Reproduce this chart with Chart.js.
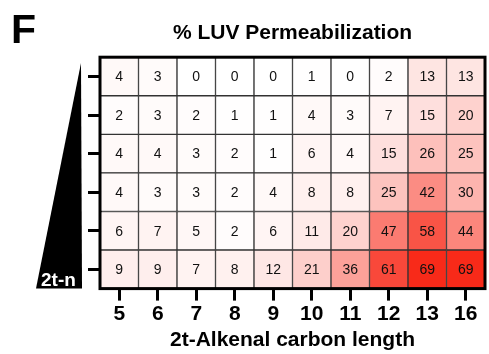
<!DOCTYPE html>
<html>
<head>
<meta charset="utf-8">
<script src="https://cdn.jsdelivr.net/npm/chart.js@4.4.1/dist/chart.umd.min.js"></script>
<style>
  html, body { margin: 0; padding: 0; background: #fff; }
  #wrap { width: 489px; height: 354px; position: relative; }
</style>
</head>
<body>
<div id="wrap"><canvas id="heat"></canvas></div>
<script>
// Alkenal carbon length (columns)
const carbonLengths = ['5', '6', '7', '8', '9', '10', '11', '12', '13', '16'];

// % LUV permeabilization, rows from bottom (2t-n, highest) to top
const row1 = [9, 9, 7, 8, 12, 21, 36, 61, 69, 69];
const row2 = [6, 7, 5, 2, 6, 11, 20, 47, 58, 44];
const row3 = [4, 3, 3, 2, 4, 8, 8, 25, 42, 30];
const row4 = [4, 4, 3, 2, 1, 6, 4, 15, 26, 25];
const row5 = [2, 3, 2, 1, 1, 4, 3, 7, 15, 20];
const row6 = [4, 3, 0, 0, 0, 1, 0, 2, 13, 13];
const rows = [row1, row2, row3, row4, row5, row6];

const rowTicks = [0, 1, 2, 3, 4, 5];
const maxValue = 69;

Chart.defaults.font.family = '"Liberation Sans", Arial, Helvetica, sans-serif';
Chart.defaults.color = '#000';

// white -> red, slightly convex
function heatColor(v) {
  const t = Math.pow(Math.min(v / maxValue, 1), 1.25);
  const hi = [248, 42, 25];
  const r = Math.round(255 + (hi[0] - 255) * t);
  const g = Math.round(255 + (hi[1] - 255) * t);
  const b = Math.round(255 + (hi[2] - 255) * t);
  return 'rgb(' + r + ',' + g + ',' + b + ')';
}

const datasets = rows.map(function(vals, r) {
  return {
    label: 'row ' + r,
    data: vals.map(function() { return [r - 0.5, r + 0.5]; }),
    backgroundColor: vals.map(heatColor),
    borderColor: '#333',
    borderWidth: 1,
    borderSkipped: false,
    grouped: false,
    barPercentage: 1,
    categoryPercentage: 1
  };
});

// numbers inside the cells + outer frame
const cellText = {
  id: 'cellText',
  afterDatasetsDraw(chart) {
    const ctx = chart.ctx;
    ctx.save();
    ctx.font = '14px "Liberation Sans", Arial, sans-serif';
    ctx.fillStyle = '#111';
    ctx.textAlign = 'center';
    ctx.textBaseline = 'middle';
    rows.forEach(function(vals, r) {
      chart.getDatasetMeta(r).data.forEach(function(bar, i) {
        ctx.fillText(String(vals[i]), bar.x, (bar.y + bar.base) / 2 + 1);
      });
    });
    const a = chart.chartArea;
    ctx.lineWidth = 3;
    ctx.strokeStyle = '#000';
    ctx.strokeRect(a.left, a.top, a.right - a.left, a.bottom - a.top);
    ctx.restore();
  }
};

// panel letter and the concentration wedge
const decor = {
  id: 'decor',
  afterDraw(chart) {
    const ctx = chart.ctx;
    const a = chart.chartArea;
    ctx.save();
    ctx.fillStyle = '#000';
    ctx.font = 'bold 41px "Liberation Sans", Arial, sans-serif';
    ctx.textAlign = 'left';
    ctx.textBaseline = 'alphabetic';
    ctx.fillText('F', 11, 43);

    ctx.beginPath();
    ctx.moveTo(81, 63);
    ctx.lineTo(82, a.bottom);
    ctx.lineTo(36, a.bottom);
    ctx.closePath();
    ctx.fill();

    ctx.fillStyle = '#fff';
    ctx.font = 'bold 19px "Liberation Sans", Arial, sans-serif';
    ctx.fillText('2t-n', 41, a.bottom - 3);
    ctx.restore();
  }
};

new Chart(document.getElementById('heat').getContext('2d'), {
  type: 'bar',
  data: {
    labels: carbonLengths,
    datasets: datasets
  },
  options: {
    responsive: true,
    maintainAspectRatio: false,
    animation: false,
    layout: {
      padding: { left: 88, right: 4, top: 0, bottom: 1 }
    },
    scales: {
      x: {
        type: 'category',
        offset: true,
        grid: {
          offset: false,
          drawOnChartArea: false,
          tickLength: 12,
          tickWidth: 3,
          tickColor: '#000'
        },
        border: { width: 3, color: '#000' },
        ticks: {
          font: { size: 21, weight: 'bold' },
          color: '#000',
          padding: 1,
          maxRotation: 0
        },
        title: {
          display: true,
          text: '2t-Alkenal carbon length',
          font: { size: 21, weight: 'bold' },
          color: '#000',
          padding: 0
        }
      },
      y: {
        type: 'linear',
        min: -0.5,
        max: 5.5,
        afterBuildTicks: function(scale) {
          scale.ticks = rowTicks.map(function(v) { return { value: v }; });
        },
        grid: {
          drawOnChartArea: false,
          tickLength: 12,
          tickWidth: 3,
          tickColor: '#000'
        },
        border: { width: 3, color: '#000' },
        ticks: { display: false }
      }
    },
    plugins: {
      legend: { display: false },
      tooltip: { enabled: false },
      title: {
        display: true,
        fullSize: false,
        text: '% LUV Permeabilization',
        font: { size: 21, weight: 'bold' },
        color: '#000',
        padding: { top: 21, bottom: 11 }
      }
    }
  },
  plugins: [cellText, decor]
});
</script>
</body>
</html>
